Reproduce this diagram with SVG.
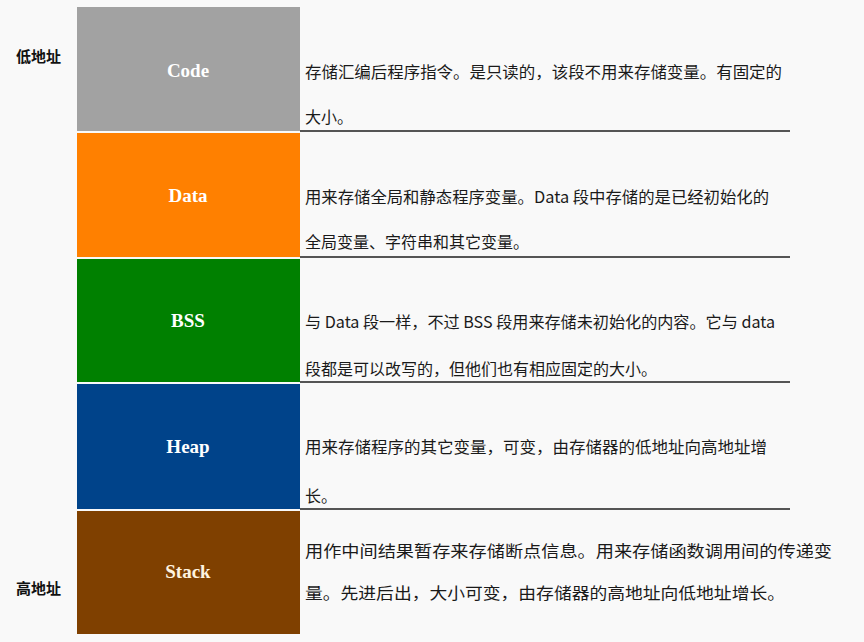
<svg xmlns="http://www.w3.org/2000/svg" width="864" height="642" viewBox="0 0 864 642">
<style>
.bg{fill:#f9f9f9}
.lbl{font-family:"Liberation Serif","Noto Serif",serif;font-weight:bold;font-size:19px;fill:#ffffff;text-anchor:middle}
.desc{font-family:"Noto Sans CJK SC","Liberation Sans",sans-serif;font-size:16px;fill:#1a1a1a}
.addr{font-family:"Noto Sans CJK SC","Liberation Sans",sans-serif;font-size:15px;font-weight:bold;fill:#111}
.sep{stroke:#555;stroke-width:2}
</style>
<rect class="bg" x="0" y="0" width="864" height="642"/>
<g id="addr-low"><text class="addr" x="16" y="62">低地址</text></g>
<g id="addr-high"><text class="addr" x="16" y="594">高地址</text></g>
<g id="code">
<rect x="77" y="7" width="223" height="124" fill="#a2a2a2"/>
<text class="lbl" x="188" y="77">Code</text>
<text class="desc" x="305" y="78" textLength="477" lengthAdjust="spacingAndGlyphs">存储汇编后程序指令。是只读的，该段不用来存储变量。有固定的</text>
<text class="desc" x="305" y="123">大小。</text>
</g>
<g id="data">
<rect x="77" y="133" width="223" height="124" fill="#ff8000"/>
<text class="lbl" x="188" y="202">Data</text>
<text class="desc" x="305" y="203" textLength="464" lengthAdjust="spacingAndGlyphs">用来存储全局和静态程序变量。Data 段中存储的是已经初始化的</text>
<text class="desc" x="305" y="248">全局变量、字符串和其它变量。</text>
</g>
<g id="bss">
<rect x="77" y="259" width="223" height="123" fill="#008000"/>
<text class="lbl" x="188" y="327">BSS</text>
<text class="desc" x="305" y="328" textLength="470" lengthAdjust="spacingAndGlyphs">与 Data 段一样，不过 BSS 段用来存储未初始化的内容。它与 data</text>
<text class="desc" x="305" y="375">段都是可以改写的，但他们也有相应固定的大小。</text>
</g>
<g id="heap">
<rect x="77" y="384" width="223" height="125" fill="#00438a"/>
<text class="lbl" x="188" y="453">Heap</text>
<text class="desc" x="305" y="453" textLength="462" lengthAdjust="spacingAndGlyphs">用来存储程序的其它变量，可变，由存储器的低地址向高地址增</text>
<text class="desc" x="305" y="502">长。</text>
</g>
<g id="stack">
<rect x="77" y="511" width="223" height="123" fill="#7f4000"/>
<text class="lbl" x="188" y="578" style="fill:#fff4e0">Stack</text>
<text class="desc" x="305" y="557" textLength="527" lengthAdjust="spacingAndGlyphs">用作中间结果暂存来存储断点信息。用来存储函数调用间的传递变</text>
<text class="desc" x="305" y="599" textLength="480" lengthAdjust="spacingAndGlyphs">量。先进后出，大小可变，由存储器的高地址向低地址增长。</text>
</g>
<g id="connectors">
<line class="sep" x1="300" y1="131" x2="790" y2="131"/>
<line class="sep" x1="300" y1="257" x2="790" y2="257"/>
<line class="sep" x1="300" y1="382" x2="790" y2="382"/>
<line class="sep" x1="300" y1="509" x2="790" y2="509"/>
</g>
</svg>
